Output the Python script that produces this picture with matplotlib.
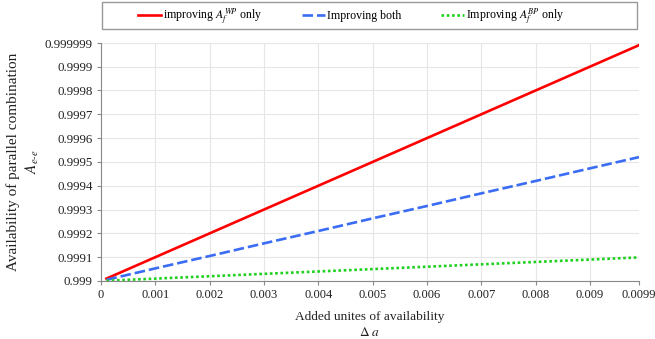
import numpy as np
import matplotlib
matplotlib.use('Agg')
import matplotlib.pyplot as plt
from matplotlib.patches import Rectangle

plt.rcParams['font.family'] = ['Liberation Serif', 'DejaVu Serif']
plt.rcParams['mathtext.fontset'] = 'stix'

# added units of availability (delta a)
delta_a = [0.0001, 0.001, 0.002, 0.003, 0.004, 0.005, 0.006, 0.007, 0.008, 0.009, 0.0099]
# improving A_f^WP only
avail_wp = [0.99901, 0.9991, 0.9992, 0.9993, 0.9994, 0.9995, 0.9996, 0.9997, 0.9998, 0.9999, 0.99999]
# improving both
avail_both = [0.999005, 0.999053, 0.999105, 0.999158, 0.99921, 0.999263, 0.999315, 0.999368,
              0.99942, 0.999473, 0.99952]
# improving A_f^BP only
avail_bp = [0.999001, 0.99901, 0.99902, 0.99903, 0.99904, 0.99905, 0.99906, 0.99907,
            0.99908, 0.99909, 0.999099]

xticks = [0, 0.001, 0.002, 0.003, 0.004, 0.005, 0.006, 0.007, 0.008, 0.009, 0.0099]
xticklabels = ['0', '0.001', '0.002', '0.003', '0.004', '0.005', '0.006', '0.007', '0.008', '0.009', '0.0099']
yticks = [0.999, 0.9991, 0.9992, 0.9993, 0.9994, 0.9995, 0.9996, 0.9997, 0.9998, 0.9999, 0.999999]
yticklabels = ['0.999', '0.9991', '0.9992', '0.9993', '0.9994', '0.9995', '0.9996', '0.9997',
               '0.9998', '0.9999', '0.999999']

fig = plt.figure(figsize=(6.55, 3.39), dpi=100)
ax = fig.add_axes([0.1542, 0.1711, 0.8214, 0.702])

l1, = ax.plot(delta_a, avail_wp, color='#ff0000', lw=1.9, label=r'improving $A_f^{WP}$ only')
l2, = ax.plot(delta_a, avail_both, color='#3a6cf4', lw=1.9, ls=(0, (4, 1.5)), label='Improving both')
l3, = ax.plot(delta_a, avail_bp, color='#1fd11f', lw=1.9, ls=(0, (1, 1)), label=r'Improving $A_f^{BP}$ only')

ax.set_xlim(0, 0.0099)
ax.set_ylim(0.999, 0.999999)
ax.set_xticks(xticks)
ax.set_xticklabels(xticklabels)
ax.set_yticks(yticks)
ax.set_yticklabels(yticklabels)
ax.tick_params(color='#888888', length=3, pad=3, labelcolor='#222222')
ax.tick_params(axis='y', labelsize=9.4)
ax.tick_params(axis='x', labelsize=9.0)
# last x label sits a little inside the right edge, as in the reference
ax.get_xticklabels()[-1].set_x(0.00985)
ax.grid(True, color='#e6e6e6', lw=0.8)
for s in ['top', 'right']:
    ax.spines[s].set_visible(False)
for s in ['left', 'bottom']:
    ax.spines[s].set_color('#888888')

ax.set_xlabel('Added unites of availability\n$\\Delta\\ a$', fontsize=9.6, color='#222222',
              labelpad=7, linespacing=1.3)
ax.set_ylabel('Availability of parallel combination\n$A_{e\\text{-}e}$', fontsize=11, color='#222222',
              labelpad=3, linespacing=1.3)

# legend box drawn separately so it spans the axes width
fig.patches.append(Rectangle((102 / 655, 1 - 29 / 339), 535 / 655, 27 / 339, transform=fig.transFigure,
                             fill=False, edgecolor='#999999', lw=1))
leg = fig.legend(handles=[l1, l2, l3], loc='center left', bbox_to_anchor=(138 / 655, 1 - 17 / 339),
                 ncol=3, fontsize=8.6, frameon=False, handlelength=1.9,
                 handletextpad=0.2, columnspacing=3.3, borderpad=0, borderaxespad=0)

fig.savefig('out.png', dpi=100)
